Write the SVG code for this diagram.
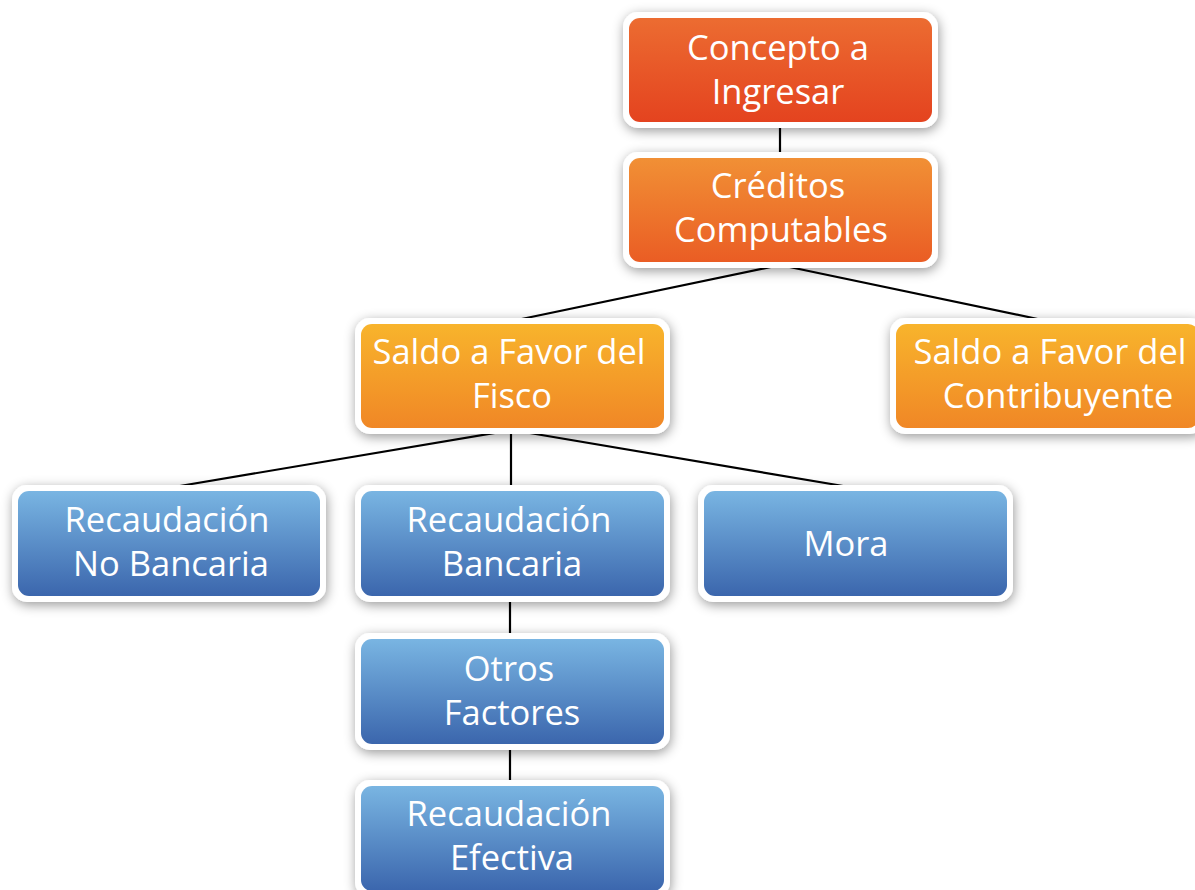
<svg xmlns="http://www.w3.org/2000/svg" width="1195" height="890" viewBox="0 0 1195 890">
<defs>
<linearGradient id="gRed" x1="0" y1="0" x2="0" y2="1"><stop offset="0" stop-color="#EC6C31"/><stop offset="1" stop-color="#E4431F"/></linearGradient>
<linearGradient id="gOrange" x1="0" y1="0" x2="0" y2="1"><stop offset="0" stop-color="#F19035"/><stop offset="1" stop-color="#EA5D24"/></linearGradient>
<linearGradient id="gYellow" x1="0" y1="0" x2="0" y2="1"><stop offset="0" stop-color="#F8B42C"/><stop offset="1" stop-color="#F08726"/></linearGradient>
<linearGradient id="gBlue" x1="0" y1="0" x2="0" y2="1"><stop offset="0" stop-color="#79B5E2"/><stop offset="1" stop-color="#3B66AD"/></linearGradient>
<filter id="sh" x="-20%" y="-30%" width="140%" height="160%"><feDropShadow dx="1" dy="3" stdDeviation="6" flood-color="#000" flood-opacity="0.4"/></filter>
</defs>
<style>
.outer{fill:#fff;filter:url(#sh)}
.t{font-family:"Open Sans","Noto Sans","DejaVu Sans",sans-serif;font-size:34.5px;fill:#fff;text-anchor:middle}
.c{stroke:#000;stroke-width:2.2;fill:none}
</style>
<g id="connectors">
<line class="c" x1="780" y1="125" x2="780" y2="155"/>
<line class="c" x1="780" y1="265" x2="512" y2="321"/>
<line class="c" x1="780" y1="265" x2="1047" y2="321"/>
<line class="c" x1="512" y1="430" x2="168" y2="488"/>
<line class="c" x1="511" y1="430" x2="511" y2="488"/>
<line class="c" x1="512" y1="430" x2="855" y2="488"/>
<line class="c" x1="510" y1="600" x2="510" y2="635"/>
<line class="c" x1="510" y1="748" x2="510" y2="783"/>
</g>
<g id="concepto">
<rect class="outer" x="623" y="12" width="315" height="116" rx="15"/>
<rect x="629" y="18" width="303" height="104" rx="11" fill="url(#gRed)"/>
<text class="t" x="778" y="60">Concepto a</text>
<text class="t" x="778" y="104">Ingresar</text>
</g>
<g id="creditos">
<rect class="outer" x="623" y="152" width="315" height="116" rx="15"/>
<rect x="629" y="158" width="303" height="104" rx="11" fill="url(#gOrange)"/>
<text class="t" x="778" y="198">Créditos</text>
<text class="t" x="781" y="242">Computables</text>
</g>
<g id="fisco">
<rect class="outer" x="355" y="318" width="315" height="116" rx="15"/>
<rect x="361" y="324" width="303" height="104" rx="11" fill="url(#gYellow)"/>
<text class="t" x="509" y="364">Saldo a Favor del</text>
<text class="t" x="512" y="408">Fisco</text>
</g>
<g id="contribuyente">
<rect class="outer" x="890" y="318" width="315" height="116" rx="15"/>
<rect x="896" y="324" width="303" height="104" rx="11" fill="url(#gYellow)"/>
<text class="t" x="1050" y="364">Saldo a Favor del</text>
<text class="t" x="1058" y="408">Contribuyente</text>
</g>
<g id="nobancaria">
<rect class="outer" x="12" y="485" width="314" height="117" rx="15"/>
<rect x="18" y="491" width="302" height="105" rx="11" fill="url(#gBlue)"/>
<text class="t" x="167" y="532">Recaudación</text>
<text class="t" x="171" y="576">No Bancaria</text>
</g>
<g id="bancaria">
<rect class="outer" x="355" y="485" width="315" height="117" rx="15"/>
<rect x="361" y="491" width="303" height="105" rx="11" fill="url(#gBlue)"/>
<text class="t" x="509" y="532">Recaudación</text>
<text class="t" x="512" y="576">Bancaria</text>
</g>
<g id="mora">
<rect class="outer" x="698" y="485" width="315" height="117" rx="15"/>
<rect x="704" y="491" width="303" height="105" rx="11" fill="url(#gBlue)"/>
<text class="t" x="846" y="556">Mora</text>
</g>
<g id="otros">
<rect class="outer" x="355" y="633" width="315" height="117" rx="15"/>
<rect x="361" y="639" width="303" height="105" rx="11" fill="url(#gBlue)"/>
<text class="t" x="509" y="681">Otros</text>
<text class="t" x="512" y="725">Factores</text>
</g>
<g id="efectiva">
<rect class="outer" x="355" y="780" width="315" height="117" rx="15"/>
<rect x="361" y="786" width="303" height="105" rx="11" fill="url(#gBlue)"/>
<text class="t" x="509" y="826">Recaudación</text>
<text class="t" x="512" y="870">Efectiva</text>
</g>
</svg>
